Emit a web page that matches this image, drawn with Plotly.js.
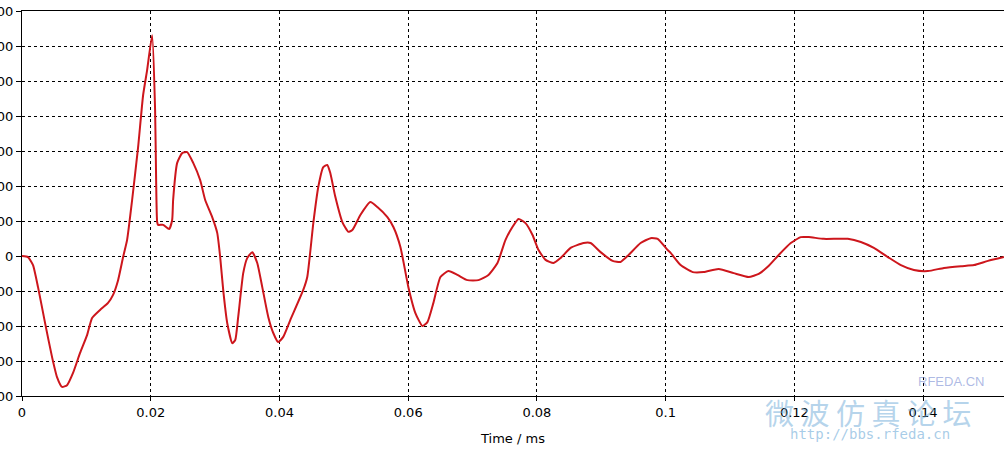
<!DOCTYPE html>
<html>
<head>
<meta charset="utf-8">
<script src="https://cdn.plot.ly/plotly-3.0.1.min.js"></script>
<style>
  html, body { margin: 0; padding: 0; background: #fff; }
  #chart { width: 1005px; height: 450px; }
</style>
</head>
<body>
<div id="chart"></div>
<script>
// Time (ms)
const timeMs = [
  0, 0.00093, 0.00171, 0.00249, 0.00358, 0.00467, 0.00544, 0.00622, 0.0070, 0.00793,
  0.00902, 0.01011, 0.01089, 0.01213, 0.01337, 0.01415, 0.01493, 0.01571, 0.01633, 0.01711,
  0.01804, 0.01882, 0.01944, 0.02022, 0.02068, 0.02084, 0.02100, 0.02115, 0.02193, 0.02286,
  0.02333, 0.02348, 0.02411, 0.02488, 0.02566, 0.02660, 0.02768, 0.02846, 0.02955, 0.03033,
  0.03079, 0.03126, 0.03188, 0.03266, 0.03313, 0.03359, 0.03437, 0.03499, 0.03577, 0.03655,
  0.03733, 0.03826, 0.03904, 0.03981, 0.04059, 0.04168, 0.0437, 0.04432, 0.04526, 0.04603,
  0.04681, 0.04743, 0.0479, 0.04868, 0.04977, 0.0507, 0.05132, 0.05257, 0.05412, 0.05521,
  0.05677, 0.0577, 0.05879, 0.06003, 0.06112, 0.06221, 0.06299, 0.06392, 0.06501, 0.06625,
  0.06765, 0.06921, 0.07092, 0.07247, 0.07387, 0.07512, 0.0762, 0.07714, 0.07823, 0.07932,
  0.08025, 0.08134, 0.08258, 0.08367, 0.08523, 0.08725, 0.08834, 0.08989, 0.09176, 0.093,
  0.09425, 0.09611, 0.09767, 0.09876, 0.10031, 0.10078, 0.10233, 0.1042, 0.10591, 0.10824,
  0.11058, 0.11291, 0.11446, 0.11586, 0.11757, 0.11944, 0.12099, 0.12224, 0.12457, 0.1283,
  0.13033, 0.13235, 0.13453, 0.13655, 0.13857, 0.14075, 0.14324, 0.14588, 0.14791, 0.15008,
  0.15257
];
// Signal values
const signal = [
  0, -3, -26, -89, -191, -289, -346, -374, -369, -334,
  -277, -226, -177, -154, -134, -111, -69, -3, 46, 160,
  311, 460, 531, 631, 417, 217, 97, 89, 89, 77,
  103, 160, 266, 294, 297, 266, 217, 160, 111, 66,
  -3, -97, -191, -249, -240, -174, -49, -6, 11, -20,
  -89, -174, -220, -246, -231, -183, -97, -60, 94, 197,
  254, 260, 237, 169, 97, 69, 74, 117, 154, 140,
  111, 83, 26, -89, -163, -200, -189, -134, -60, -43,
  -54, -69, -69, -54, -20, 46, 83, 106, 94, 60,
  17, -11, -20, -6, 23, 37, 37, 11, -14, -17,
  3, 37, 51, 49, 17, 9, -26, -46, -46, -37,
  -49, -60, -51, -31, 3, 37, 54, 54, 49, 49,
  40, 23, -3, -26, -40, -43, -34, -29, -26, -14,
  -3
];
const xTickVals = [0, 0.02, 0.04, 0.06, 0.08, 0.1, 0.12, 0.14];
const xTickText = ["0", "0.02", "0.04", "0.06", "0.08", "0.1", "0.12", "0.14"];
const yTickVals = [-400, -300, -200, -100, 0, 100, 200, 300, 400, 500, 600, 700];
const yTickText = ["-400", "-300", "-200", "-100", "0", "100", "200", "300", "400", "500", "600", "700"];

const font = {family: "DejaVu Sans, Verdana, sans-serif", size: 13, color: "#000"};

// paper coordinate helpers for watermark placement
const L = 22, R = 1004, T = 11, B = 396;
const px = v => (v - L) / (R - L);
const py = v => (B - v) / (B - T);

const trace = {
  x: timeMs, y: signal, type: "scatter", mode: "lines",
  line: {color: "rgb(205,22,28)", width: 2, shape: "spline", smoothing: 0.5},
  hoverinfo: "skip"
};

const layout = {
  width: 1005, height: 450,
  margin: {l: L, r: 1005 - R, t: T, b: 450 - B, pad: 0},
  paper_bgcolor: "#fff", plot_bgcolor: "#fff",
  showlegend: false,
  font: font,
  xaxis: {
    range: [0, 0.15257], tickvals: xTickVals, ticktext: xTickText,
    showgrid: true, gridcolor: "#000", gridwidth: 1, griddash: "3px,3px",
    zeroline: false, showline: true, linecolor: "#000", linewidth: 1, mirror: true,
    ticks: "outside", ticklen: 4, tickcolor: "#000", tickfont: font,
    title: {text: "Time / ms", font: font, standoff: 15},
    automargin: false, fixedrange: true
  },
  yaxis: {
    range: [-400, 700], tickvals: yTickVals, ticktext: yTickText,
    showgrid: true, gridcolor: "#000", gridwidth: 1, griddash: "3px,3px",
    zeroline: false, showline: true, linecolor: "#000", linewidth: 1,
    ticks: "outside", ticklen: 5, tickcolor: "#000", tickfont: font,
    automargin: false, fixedrange: true
  },
  annotations: [
    {xref: "paper", yref: "paper", x: px(868), y: py(412), xanchor: "center", yanchor: "middle",
     text: "微 波 仿 真 论 坛",
     showarrow: false, font: {family: "Noto Sans CJK SC", size: 29, color: "rgba(110,170,215,0.5)"}},
    {xref: "paper", yref: "paper", x: px(870), y: py(434), xanchor: "center", yanchor: "middle",
     text: "http://bbs.rfeda.cn",
     showarrow: false, font: {family: "DejaVu Sans Mono", size: 14, color: "rgba(110,170,215,0.6)"}},
    {xref: "paper", yref: "paper", x: px(951), y: py(381), xanchor: "center", yanchor: "middle",
     text: "RFEDA.CN",
     showarrow: false, font: {family: "Liberation Sans", size: 13, color: "rgba(120,140,210,0.6)"}}
  ]
};

Plotly.newPlot("chart", [trace], layout, {displayModeBar: false, staticPlot: true});
</script>
</body>
</html>
